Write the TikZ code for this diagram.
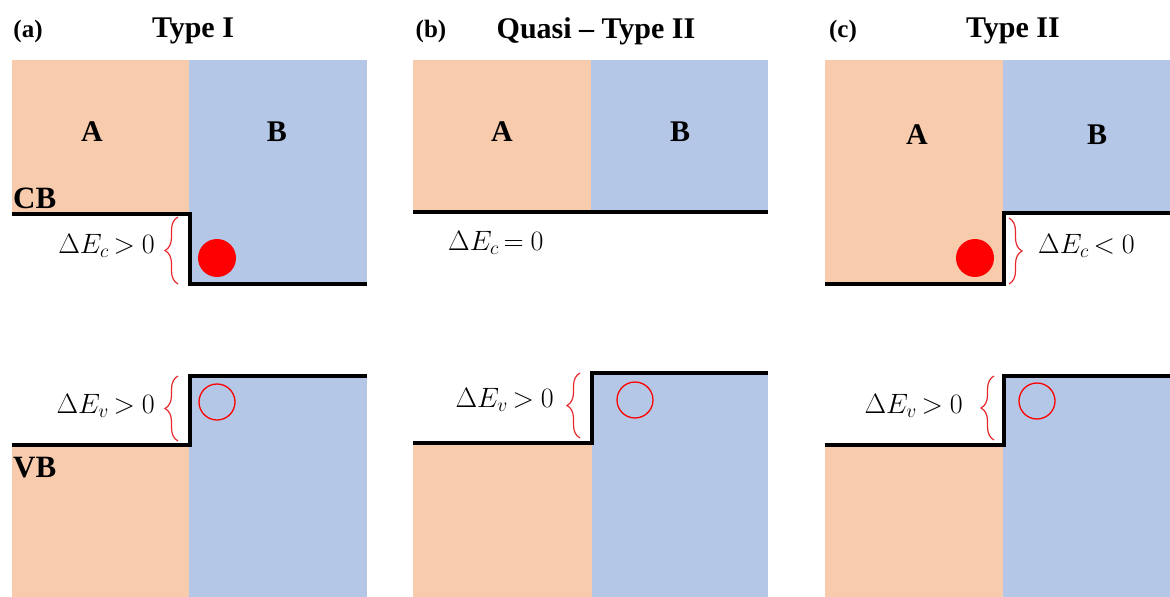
\documentclass[tikz,border=0pt]{standalone}
\usepackage{fix-cm}
\usepackage{amsmath}
\usepackage{fontspec}
\setmainfont{Liberation Serif}
\usepackage{tikz}
\usetikzlibrary{decorations.pathreplacing}

\definecolor{layerA}{HTML}{F8CBAD}
\definecolor{layerB}{HTML}{B4C7E7}
\definecolor{gapred}{HTML}{E8282C}

\begin{document}
\begin{tikzpicture}[x=1pt, y=-1pt,
        title/.style = {inner sep=0, font=\bfseries\fontsize{30}{34}\selectfont},
        panel/.style = {inner sep=0, font=\bfseries\fontsize{25}{28}\selectfont},
        layer/.style = {inner sep=0, font=\bfseries\fontsize{30}{34}\selectfont},
        band/.style = {inner sep=0, font=\bfseries\fontsize{31}{34}\selectfont},
        offset/.style = {inner sep=0, font=\fontsize{28}{32}\selectfont},
        edge line/.style = {line width=3.5pt, line join=miter},
        gap brace/.style = {draw=gapred, line width=1.2pt, decorate, decoration={brace, amplitude=13pt}},
        electron/.style = {fill=red},
        hole/.style = {draw=red, line width=1.3pt}
    ]
    \useasboundingbox (0,0) rectangle (1170,597);

    % (a) Type I
    \fill[layerA] (12,60) rectangle (189,214);
    \fill[layerB] (189,60) rectangle (367,284);
    \fill[layerA] (12,445) rectangle (189,597);
    \fill[layerB] (189,376) rectangle (367,597);
    \draw[edge line] (12,214) -- (190,214) -- (190,284) -- (367,284);
    \draw[edge line] (12,445) -- (190,445) -- (190,376) -- (367,376);
    \draw[gap brace] (178,284) -- (178,217);
    \draw[gap brace] (178,441) -- (178,376);
    \fill[electron] (217,258) circle[radius=19pt];
    \draw[hole] (217,402) circle[radius=18pt];

    \node (tagA) [panel] at (28,31) {(a)};
    \node (typeI) [title] at (193,31) {Type I};
    \node (aA) [layer] at (92,132) {A};
    \node (aB) [layer] at (277,132) {B};
    \node (aCB) [band, anchor=west] at (13,198) {CB};
    \node (aVB) [band, anchor=west] at (13,468) {VB};
    \node (aEc) [offset, anchor=east] at (155,246) {$\Delta E_c\,{>}\ 0$};
    \node (aEv) [offset, anchor=east] at (155,406) {$\Delta E_v\,{>}\ 0$};

    % (b) Quasi - Type II
    \fill[layerA] (413,60) rectangle (591,212);
    \fill[layerB] (591,60) rectangle (768,212);
    \fill[layerA] (413,443) rectangle (592,597);
    \fill[layerB] (592,373) rectangle (768,597);
    \draw[edge line] (413,212) -- (768,212);
    \draw[edge line] (413,443) -- (592,443) -- (592,373) -- (768,373);
    \draw[gap brace] (580,438) -- (580,373);
    \draw[hole] (635,400) circle[radius=18pt];

    \node (tagB) [panel] at (431,31) {(b)};
    \node (quasi) [title] at (596,31) {Quasi -- Type II};
    \node (bA) [layer] at (502,132) {A};
    \node (bB) [layer] at (680,132) {B};
    \node (bEc) [offset, anchor=west] at (448,243) {$\Delta E_c\,{=}\ 0$};
    \node (bEv) [offset, anchor=east] at (554,400) {$\Delta E_v\,{>}\ 0$};

    % (c) Type II
    \fill[layerA] (825,60) rectangle (1003,284);
    \fill[layerB] (1003,60) rectangle (1170,213);
    \fill[layerA] (825,445) rectangle (1003,597);
    \fill[layerB] (1003,376) rectangle (1170,597);
    \draw[edge line] (825,284) -- (1004,284) -- (1004,213) -- (1170,213);
    \draw[edge line] (825,445) -- (1004,445) -- (1004,376) -- (1170,376);
    \draw[gap brace] (1009,218) -- (1009,284);
    \draw[gap brace] (994,440) -- (994,376);
    \fill[electron] (975,258) circle[radius=19pt];
    \draw[hole] (1037,401) circle[radius=18pt];

    \node (tagC) [panel] at (843,31) {(c)};
    \node (typeII) [title] at (1013,31) {Type II};
    \node (cA) [layer] at (917,135) {A};
    \node (cB) [layer] at (1097,135) {B};
    \node (cEc) [offset, anchor=west] at (1038,246) {$\Delta E_c\,{<}\ 0$};
    \node (cEv) [offset, anchor=east] at (963,406) {$\Delta E_v\,{>}\ 0$};

\end{tikzpicture}
\end{document}
